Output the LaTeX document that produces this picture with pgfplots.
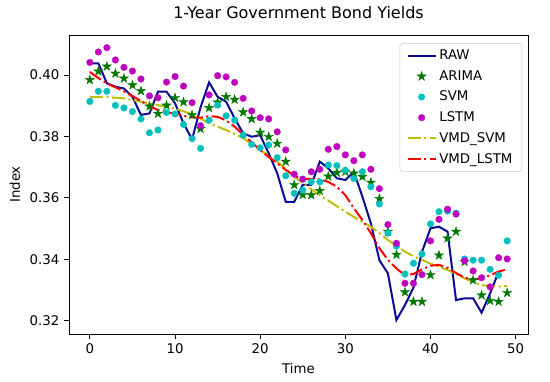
\documentclass[border=0pt]{standalone}
\usepackage{fontspec}
\setmainfont{DejaVu Sans}
\usepackage{pgfplots}
\usepackage{pgfplotstable}
\pgfplotsset{compat=1.18}

\definecolor{rawc}{RGB}{10,10,150}
\definecolor{arimac}{RGB}{0,120,0}
\definecolor{svmc}{RGB}{0,191,191}
\definecolor{lstmc}{RGB}{191,0,191}
\definecolor{vsvmc}{RGB}{191,191,0}
\definecolor{vlstmc}{RGB}{255,0,0}

\pgfdeclareplotmark{mpstar}{%
  \pgfpathmoveto{\pgfpointpolar{90}{\pgfplotmarksize}}%
  \pgfpathlineto{\pgfpointpolar{126}{0.382\pgfplotmarksize}}%
  \pgfpathlineto{\pgfpointpolar{162}{\pgfplotmarksize}}%
  \pgfpathlineto{\pgfpointpolar{198}{0.382\pgfplotmarksize}}%
  \pgfpathlineto{\pgfpointpolar{234}{\pgfplotmarksize}}%
  \pgfpathlineto{\pgfpointpolar{270}{0.382\pgfplotmarksize}}%
  \pgfpathlineto{\pgfpointpolar{306}{\pgfplotmarksize}}%
  \pgfpathlineto{\pgfpointpolar{342}{0.382\pgfplotmarksize}}%
  \pgfpathlineto{\pgfpointpolar{18}{\pgfplotmarksize}}%
  \pgfpathlineto{\pgfpointpolar{54}{0.382\pgfplotmarksize}}%
  \pgfpathclose
  \pgfusepathqfillstroke
}

\pgfplotstableread{
t raw arima svm lstm vsvm vlstm
0 0.4038 0.3984 0.3914 0.4041 0.3929 0.4010
1 0.4038 0.4012 0.3947 0.4075 0.3929 0.3990
2 0.3973 0.4028 0.3947 0.4089 0.3928 0.3973
3 0.3962 0.4005 0.3901 0.4049 0.3926 0.3960
4 0.3956 0.3989 0.3893 0.4025 0.3924 0.3947
5 0.3929 0.3967 0.3881 0.4013 0.3919 0.3932
6 0.3870 0.3948 0.3857 0.3987 0.3913 0.3915
7 0.3875 0.3898 0.3812 0.3932 0.3908 0.3899
8 0.3946 0.3874 0.3821 0.3926 0.3902 0.3886
9 0.3946 0.3901 0.3878 0.3977 0.3897 0.3879
10 0.3908 0.3926 0.3873 0.3995 0.3891 0.3874
11 0.3843 0.3912 0.3839 0.3964 0.3882 0.3868
12 0.3790 0.3870 0.3793 0.3910 0.3872 0.3862
13 0.3895 0.3825 0.3761 0.3835 0.3858 0.3861
14 0.3976 0.3893 0.3853 0.3935 0.3843 0.3866
15 0.3929 0.3911 0.3902 0.3998 0.3832 0.3864
16 0.3913 0.3929 0.3867 0.3994 0.3821 0.3852
17 0.3859 0.3920 0.3853 0.3976 0.3808 0.3832
18 0.3810 0.3879 0.3804 0.3924 0.3794 0.3806
19 0.3799 0.3857 0.3774 0.3883 0.3776 0.3781
20 0.3804 0.3813 0.3763 0.3861 0.3756 0.3756
21 0.3745 0.3799 0.3772 0.3857 0.3737 0.3733
22 0.3680 0.3777 0.3731 0.3815 0.3718 0.3713
23 0.3587 0.3718 0.3672 0.3756 0.3694 0.3691
24 0.3587 0.3642 0.3615 0.3677 0.3669 0.3672
25 0.3642 0.3610 0.3625 0.3661 0.3648 0.3661
26 0.3642 0.3609 0.3652 0.3685 0.3628 0.3662
27 0.3718 0.3623 0.3652 0.3693 0.3609 0.3660
28 0.3696 0.3670 0.3707 0.3758 0.3591 0.3652
29 0.3664 0.3682 0.3705 0.3767 0.3573 0.3636
30 0.3658 0.3685 0.3690 0.3740 0.3555 0.3609
31 0.3685 0.3680 0.3663 0.3721 0.3538 0.3566
32 0.3604 0.3669 0.3685 0.3740 0.3522 0.3528
33 0.3517 0.3650 0.3636 0.3693 0.3506 0.3485
34 0.3397 0.3597 0.3580 0.3630 0.3485 0.3436
35 0.3354 0.3490 0.3485 0.3513 0.3463 0.3398
36 0.3202 0.3415 0.3443 0.3452 0.3444 0.3370
37 0.3251 0.3293 0.3352 0.3322 0.3425 0.3348
38 0.3308 0.3262 0.3387 0.3322 0.3410 0.3352
39 0.3424 0.3262 0.3417 0.3350 0.3398 0.3367
40 0.3501 0.3349 0.3515 0.3460 0.3386 0.3379
41 0.3506 0.3413 0.3555 0.3530 0.3376 0.3382
42 0.3490 0.3468 0.3557 0.3563 0.3365 0.3372
43 0.3267 0.3490 0.3550 0.3547 0.3352 0.3355
44 0.3273 0.3392 0.3401 0.3395 0.3338 0.3340
45 0.3273 0.3332 0.3397 0.3362 0.3326 0.3334
46 0.3226 0.3283 0.3397 0.3340 0.3316 0.3338
47 0.3289 0.3265 0.3367 0.3310 0.3312 0.3348
48 0.3359 0.3262 0.3348 0.3405 0.3311 0.3360
49 nan    0.3291 0.3460 0.3401 0.3313 0.3367
}\datatable

\tikzset{mpdashdot/.style={dash pattern=on 10pt off 2.5pt on 1.6pt off 2.5pt}}
\pgfplotsset{myleg/.style={legend image code/.code={%
  \draw[mark repeat=2,mark phase=2] plot coordinates {(0cm,0cm) (0.37cm,0cm) (0.74cm,0cm)};}}}

\begin{document}
\begin{tikzpicture}
\begin{axis}[
  scale only axis,
  width=344.25pt, height=224.25pt,
  xmin=-2.45, xmax=51.45,
  ymin=0.31567, ymax=0.41303,
  xtick={0,10,20,30,40,50},
  ytick={0.32,0.34,0.36,0.38,0.40},
  tick pos=left,
  tick align=outside,
  major tick length=3.75pt,
  tick style={black, line width=0.6pt},
  axis line style={line width=0.6pt},
  scaled y ticks=false,
  yticklabel style={/pgf/number format/.cd, fixed, fixed zerofill, precision=2},
  /pgf/number format/assume math mode=true,
  ticklabel style={font=\fontsize{10}{12}\selectfont},
  label style={font=\fontsize{10}{12}\selectfont},
  title={1-Year Government Bond Yields},
  title style={font=\fontsize{12}{14}\selectfont, at={(axis description cs:0.5,1.0268)}, anchor=base},
  xlabel={Time},
  xlabel style={at={(axis description cs:0.5,-0.115)}, anchor=center},
  ylabel={Index},
  ylabel style={at={(axis description cs:-0.1176,0.5)}, anchor=center},
  legend cell align=left,
  legend style={at={(axis description cs:0.987,0.973)}, anchor=north east,
    draw=black!20, rounded corners=2pt, fill=white,
    font=\fontsize{10}{12}\selectfont,
    inner xsep=5pt, inner ysep=3pt, row sep=2.6pt},
]
\addplot[rawc, line width=1.5pt, no marks, myleg] table[x=t, y=raw] {\datatable};
\addlegendentry{RAW}
\addplot[only marks, mark=mpstar, mark size=3.6pt, mark options={fill=arimac, draw=arimac, line width=0.3pt}, myleg] table[x=t, y=arima] {\datatable};
\addlegendentry{ARIMA}
\addplot[only marks, mark=*, mark size=2.5pt, mark options={fill=svmc, draw=svmc, line width=0.2pt}, myleg] table[x=t, y=svm] {\datatable};
\addlegendentry{SVM}
\addplot[only marks, mark=*, mark size=2.5pt, mark options={fill=lstmc, draw=lstmc, line width=0.2pt}, myleg] table[x=t, y=lstm] {\datatable};
\addlegendentry{LSTM}
\addplot[vsvmc, line width=1.5pt, mpdashdot, no marks, myleg] table[x=t, y=vsvm] {\datatable};
\addlegendentry{VMD\_SVM}
\addplot[vlstmc, line width=1.5pt, mpdashdot, no marks, myleg] table[x=t, y=vlstm] {\datatable};
\addlegendentry{VMD\_LSTM}
\coordinate (LL) at (rel axis cs:0,0);
\coordinate (UR) at (rel axis cs:1,1);
\end{axis}
\pgfresetboundingbox
\path ([shift={(-51.75pt,-36pt)}]LL) rectangle ([shift={(16.5pt,26.25pt)}]UR);
\end{tikzpicture}
\end{document}
